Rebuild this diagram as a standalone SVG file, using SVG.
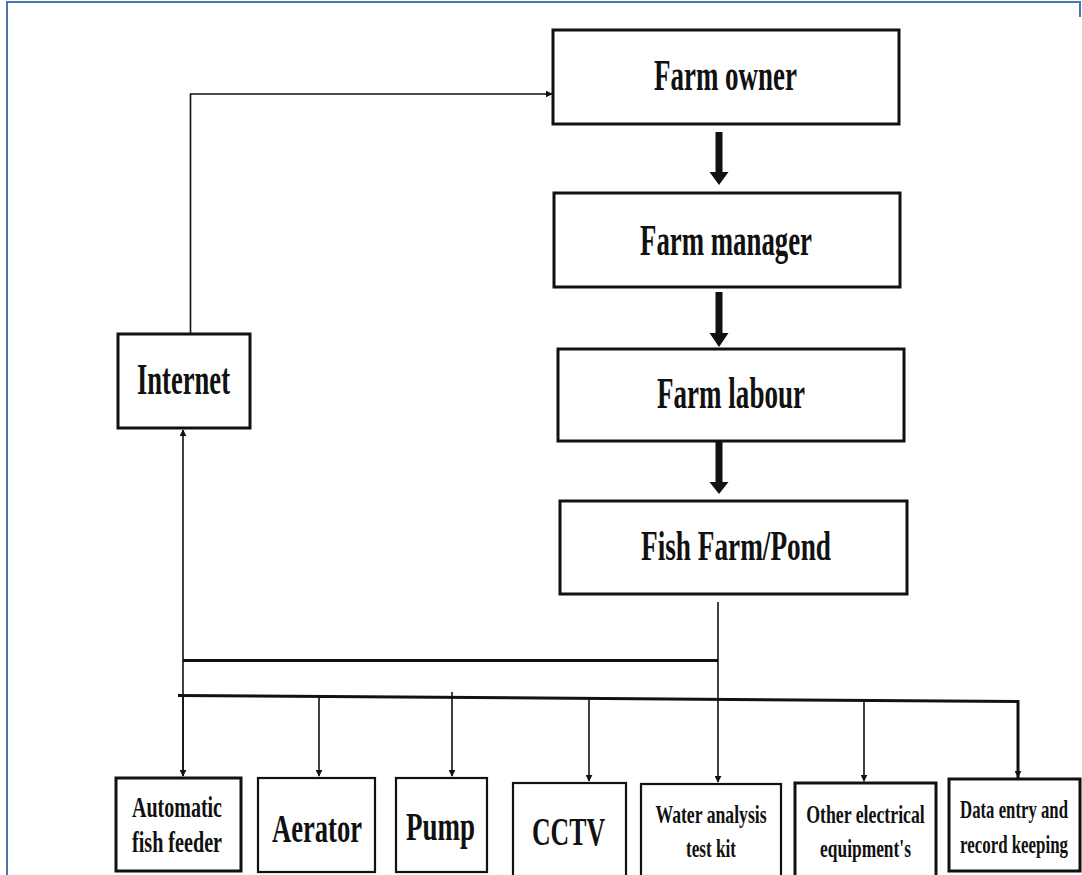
<svg xmlns="http://www.w3.org/2000/svg" width="1082" height="875" viewBox="0 0 1082 875">
<defs>
<style>
.box{fill:#fff;stroke:#111;stroke-width:3}
.thin{fill:#fff;stroke:#111;stroke-width:2.2}
.t{font-family:"Liberation Serif","Times New Roman",serif;font-weight:bold;fill:#111;text-anchor:middle}
.ln{fill:none;stroke:#111;stroke-width:1.6}
.bus{fill:none;stroke:#111;stroke-width:3}
.big{fill:#111;stroke:none}
</style>
<marker id="ah" viewBox="0 0 10 10" refX="9" refY="5" markerWidth="7" markerHeight="7" markerUnits="userSpaceOnUse" orient="auto">
<path d="M0,0 L10,5 L0,10 z" fill="#111"/>
</marker>
</defs>
<rect width="1082" height="875" fill="#fff"/>
<g id="frame" fill="none" stroke="#4a76b0" stroke-width="2">
<path d="M7,875 V2 H1080 V17"/>
</g>
<g id="connectors">
<path class="ln" d="M190.5,333 V94 H552" marker-end="url(#ah)"/>
<path class="big" d="M715.5,132 h7 v40 h6 l-9.5,13 l-9.5,-13 h6 z"/>
<path class="big" d="M715.5,292 h7 v41 h6 l-9.5,14 l-9.5,-14 h6 z"/>
<path class="big" d="M715.5,442 h7 v40 h6 l-9.5,12 l-9.5,-12 h6 z"/>
<path class="ln" d="M183,776 V430" marker-end="url(#ah)"/>
<path class="ln" d="M183,696 V776" marker-end="url(#ah)"/>
<path class="bus" d="M183,660.5 H718"/>
<path class="ln" d="M718,602 V782" marker-end="url(#ah)"/>
<path class="bus" d="M178,695.5 L1018,701.5 V778"/>
<path class="ln" d="M319,697 V776" marker-end="url(#ah)"/>
<path class="ln" d="M452,692 V776" marker-end="url(#ah)"/>
<path class="ln" d="M589,699 V781" marker-end="url(#ah)"/>
<path class="ln" d="M864,700 V781" marker-end="url(#ah)"/>
<path class="ln" d="M1018,701 V777" marker-end="url(#ah)"/>
</g>
<g id="farm-owner"><rect class="box" x="553" y="30" width="346" height="94"/><text class="t" x="725.5" y="90" font-size="44" textLength="143" lengthAdjust="spacingAndGlyphs">Farm owner</text></g>
<g id="farm-manager"><rect class="box" x="554" y="193" width="346" height="94"/><text class="t" x="726" y="255" font-size="44" textLength="172" lengthAdjust="spacingAndGlyphs">Farm manager</text></g>
<g id="farm-labour"><rect class="box" x="558" y="349" width="346" height="92"/><text class="t" x="731" y="408" font-size="44" textLength="148" lengthAdjust="spacingAndGlyphs">Farm labour</text></g>
<g id="fish-farm"><rect class="box" x="560" y="501" width="347" height="93"/><text class="t" x="736" y="560" font-size="43" textLength="190" lengthAdjust="spacingAndGlyphs">Fish Farm/Pond</text></g>
<g id="internet"><rect class="box" x="118" y="334" width="132" height="94"/><text class="t" x="183.5" y="394" font-size="44" textLength="93" lengthAdjust="spacingAndGlyphs">Internet</text></g>
<g id="feeder"><rect class="box" x="116" y="778" width="125" height="93"/><text class="t" x="177" y="817" font-size="30" textLength="90" lengthAdjust="spacingAndGlyphs">Automatic</text><text class="t" x="177" y="852" font-size="30" textLength="90" lengthAdjust="spacingAndGlyphs">fish feeder</text></g>
<g id="aerator"><rect class="thin" x="258" y="778" width="117" height="94"/><text class="t" x="317" y="842" font-size="41" textLength="90" lengthAdjust="spacingAndGlyphs">Aerator</text></g>
<g id="pump"><rect class="thin" x="396" y="778" width="91" height="94"/><text class="t" x="440.5" y="840" font-size="41" textLength="69" lengthAdjust="spacingAndGlyphs">Pump</text></g>
<g id="cctv"><rect class="thin" x="513" y="783" width="113" height="100"/><text class="t" x="568.5" y="845" font-size="40" textLength="73" lengthAdjust="spacingAndGlyphs">CCTV</text></g>
<g id="water-kit"><rect class="thin" x="641" y="784" width="140" height="100"/><text class="t" font-size="26" transform="translate(711,823) scale(0.68,1)">Water analysis</text><text class="t" font-size="26" transform="translate(711,857) scale(0.66,1)">test kit</text></g>
<g id="other-electrical"><rect class="box" x="795" y="783" width="141" height="100"/><text class="t" font-size="26" transform="translate(865.5,823) scale(0.684,1)">Other electrical</text><text class="t" font-size="26" transform="translate(865.5,857) scale(0.67,1)">equipment's</text></g>
<g id="data-entry"><rect class="box" x="949" y="779" width="131" height="92"/><text class="t" font-size="25" transform="translate(1014,818) scale(0.67,1)">Data entry and</text><text class="t" font-size="25" transform="translate(1014,853) scale(0.675,1)">record keeping</text></g>
</svg>
